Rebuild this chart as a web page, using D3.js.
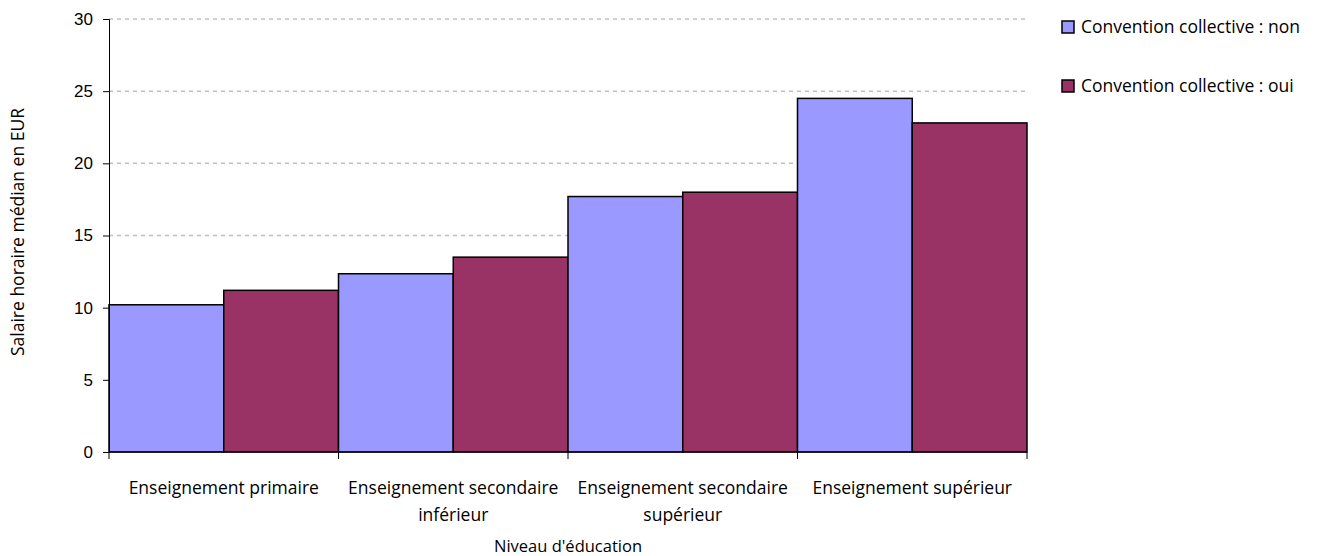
<!DOCTYPE html>
<html>
<head>
<meta charset="utf-8">
<script src="https://cdn.jsdelivr.net/npm/d3@7"></script>
<style>
  body { margin: 0; background: #fff; }
  .tick text { font-family: "Liberation Sans", Arial, sans-serif; }
  .cat-label, .axis-title, .legend-text { font-family: "Open Sans", "DejaVu Sans", sans-serif; fill: #000; }
</style>
</head>
<body>
<div id="chart"></div>
<script>
// data
var categories = ["Enseignement primaire", "Enseignement secondaire inférieur", "Enseignement secondaire supérieur", "Enseignement supérieur"];
var categoryLines = [["Enseignement primaire"], ["Enseignement secondaire", "inférieur"], ["Enseignement secondaire", "supérieur"], ["Enseignement supérieur"]];
var seriesNames = ["Convention collective : non", "Convention collective : oui"];
var valuesNon = [10.2, 12.35, 17.7, 24.5];
var valuesOui = [11.2, 13.5, 18.0, 22.8];
var yTicks = [0, 5, 10, 15, 20, 25, 30];
var colors = ["#9999FF", "#993366"];

var W = 1322, H = 556;
var margin = {top: 19, left: 109, right: 295, bottom: 104};
var width = W - margin.left - margin.right;
var height = H - margin.top - margin.bottom;

var svg = d3.select("#chart")
  .append("svg")
    .attr("width", W)
    .attr("height", H)
  .append("g")
    .attr("transform", "translate(" + margin.left + "," + margin.top + ")");

var x = d3.scaleBand()
  .domain(categories)
  .range([0, width])
  .padding(0);

var xSub = d3.scaleBand()
  .domain(seriesNames)
  .range([0, x.bandwidth()])
  .padding(0);

var y = d3.scaleLinear()
  .domain([0, 30])
  .range([height, 0]);

// grid lines
svg.append("g")
  .selectAll("line")
  .data(yTicks.filter(function (d) { return d > 0; }))
  .enter()
    .append("line")
    .attr("x1", 0)
    .attr("x2", width)
    .attr("y1", function (d) { return y(d); })
    .attr("y2", function (d) { return y(d); })
    .attr("stroke", "#c0c0c0")
    .attr("stroke-width", 1.5)
    .attr("stroke-dasharray", "4,4");

// bars
var rows = categories.map(function (c, i) {
  return { cat: c, vals: [valuesNon[i], valuesOui[i]] };
});

var groups = svg.append("g")
  .selectAll("g")
  .data(rows)
  .enter()
    .append("g")
    .attr("transform", function (d) { return "translate(" + x(d.cat) + ",0)"; });

groups.selectAll("rect")
  .data(function (d) { return d.vals.map(function (v, j) { return { s: seriesNames[j], v: v, j: j }; }); })
  .enter()
    .append("rect")
    .attr("x", function (d) { return xSub(d.s); })
    .attr("y", function (d) { return y(d.v); })
    .attr("width", xSub.bandwidth())
    .attr("height", function (d) { return y(0) - y(d.v); })
    .attr("fill", function (d) { return colors[d.j]; })
    .attr("stroke", "#000")
    .attr("stroke-width", 1.5);

// y axis
var yAxis = svg.append("g")
  .call(d3.axisLeft(y).tickValues(yTicks).tickSize(6).tickPadding(10));
yAxis.selectAll("text").attr("font-size", 17).attr("fill", "#000");
yAxis.select(".domain").attr("stroke", "#000");
yAxis.selectAll(".tick line").attr("stroke", "#000");

// x axis (ticks at group boundaries)
var xAxis = svg.append("g")
  .attr("transform", "translate(0," + height + ")");
xAxis.append("line")
  .attr("x1", 0).attr("x2", width)
  .attr("stroke", "#000");
xAxis.selectAll(".xtick")
  .data(categories.concat(["end"]))
  .enter()
    .append("line")
    .attr("class", "xtick")
    .attr("x1", function (d, i) { return i < categories.length ? x(d) : width; })
    .attr("x2", function (d, i) { return i < categories.length ? x(d) : width; })
    .attr("y1", 0)
    .attr("y2", 7)
    .attr("stroke", "#000");

// category labels
var labels = svg.append("g")
  .selectAll("text")
  .data(categoryLines)
  .enter()
    .append("text")
    .attr("class", "cat-label")
    .attr("font-size", 17.5)
    .attr("text-anchor", "middle")
    .attr("transform", function (d, i) { return "translate(" + (x(categories[i]) + x.bandwidth() / 2) + "," + (height + 42) + ")"; });

labels.selectAll("tspan")
  .data(function (d) { return d; })
  .enter()
    .append("tspan")
    .attr("x", 0)
    .attr("dy", function (d, i) { return i === 0 ? 0 : 27; })
    .text(function (d) { return d; });

// axis titles
svg.append("text")
  .attr("class", "axis-title")
  .attr("font-size", 16.5)
  .attr("text-anchor", "middle")
  .attr("x", width / 2)
  .attr("y", height + 100)
  .text("Niveau d'éducation");

svg.append("text")
  .attr("class", "axis-title")
  .attr("font-size", 17.5)
  .attr("text-anchor", "middle")
  .attr("transform", "translate(" + (-85) + "," + (232 - margin.top) + ") rotate(-90)")
  .text("Salaire horaire médian en EUR");

// legend
var legend = svg.append("g")
  .attr("transform", "translate(" + (1062 - margin.left) + "," + (21 - margin.top) + ")");

var items = legend.selectAll("g")
  .data(seriesNames)
  .enter()
    .append("g")
    .attr("transform", function (d, i) { return "translate(0," + (i * 59) + ")"; });

items.append("rect")
  .attr("width", 12)
  .attr("height", 12)
  .attr("fill", function (d, i) { return colors[i]; })
  .attr("stroke", "#000")
  .attr("stroke-width", 1.5);

items.append("text")
  .attr("class", "legend-text")
  .attr("x", 19)
  .attr("y", 12)
  .attr("font-size", 17.5)
  .text(function (d) { return d; });
</script>
</body>
</html>
